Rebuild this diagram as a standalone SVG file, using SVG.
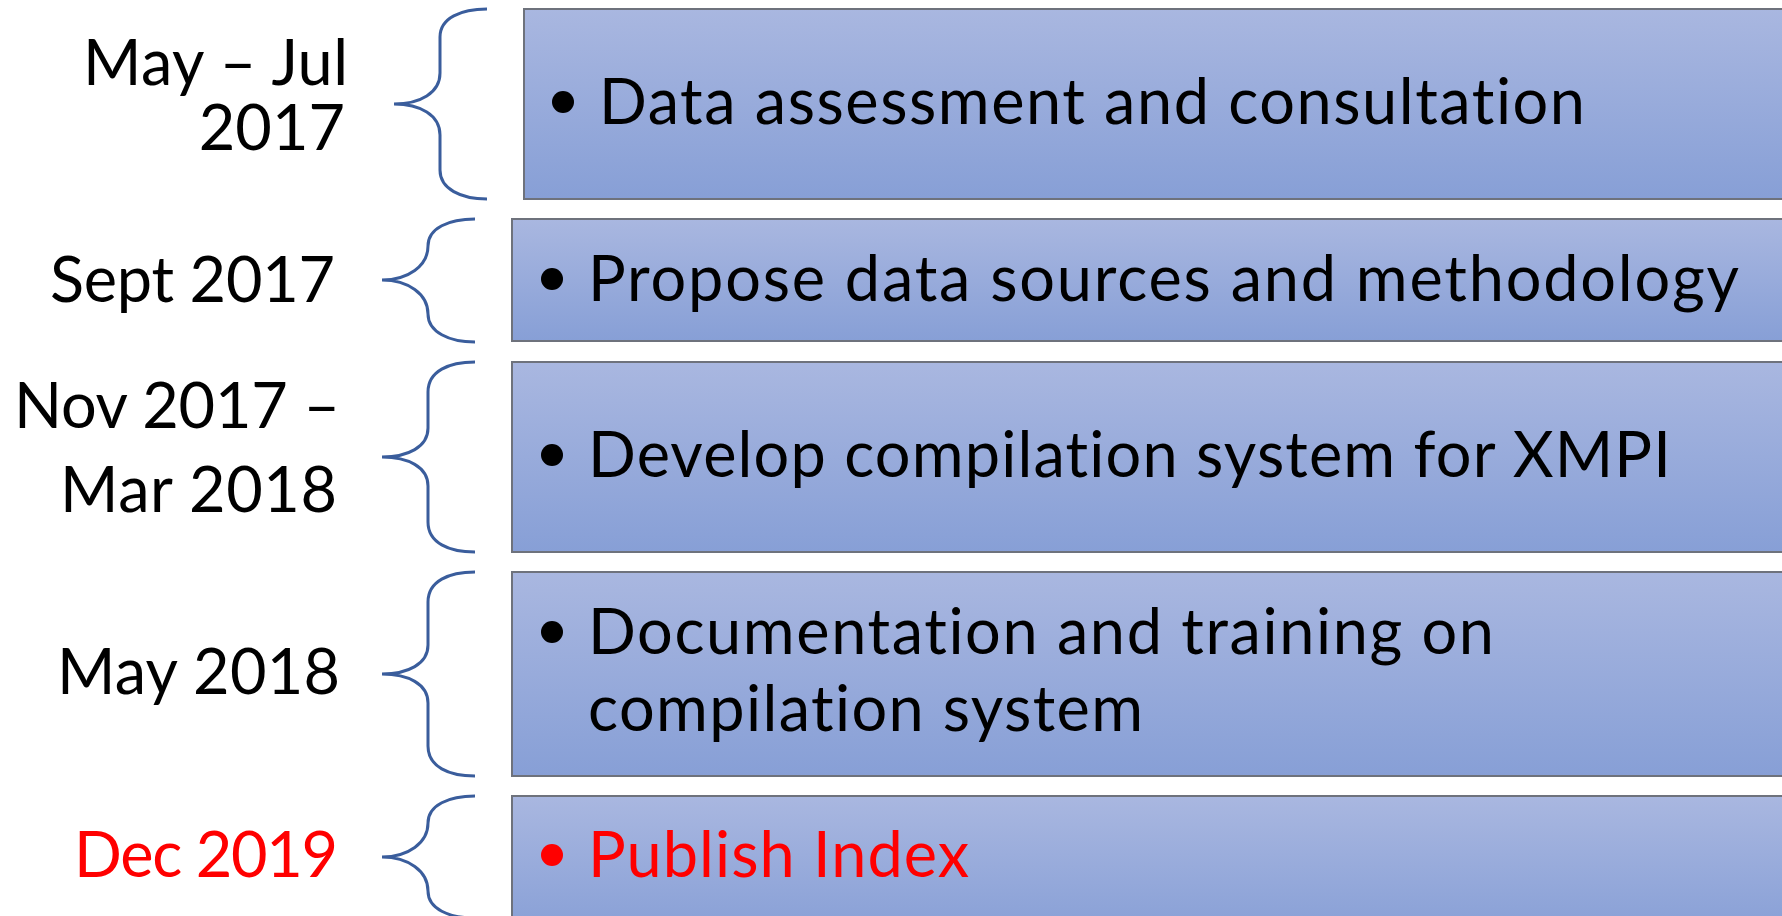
<svg xmlns="http://www.w3.org/2000/svg" width="1782" height="916" viewBox="0 0 1782 916">
<defs>
<linearGradient id="g" x1="0" y1="0" x2="0" y2="1">
<stop offset="0" stop-color="#a9b7e0"/>
<stop offset="1" stop-color="#879fd6"/>
</linearGradient>
<style>
.box{fill:url(#g);stroke:#6e727c;stroke-width:2}
.br{fill:none;stroke:#3a5d9c;stroke-width:3}
text{font-family:Lato,"Liberation Sans",sans-serif;font-size:63px;fill:#000;font-variant-ligatures:none}
.lab{text-anchor:end}
.red{fill:#ff0000}
</style>
</defs>
<rect width="1782" height="916" fill="#ffffff"/>
<g id="connectors">
<path class="br" d="M487,9 C461,9 440,18 440,37 L440,73 C440,93 420,104 394,104 C420,104 440,115 440,135 L440,170 C440,189 461,199 487,199"/>
<path class="br" d="M475,219 C449,219 428,228 428,246 C428,266 408,280 382,280 C408,280 428,294 428,314 C428,332 449,342 475,342"/>
<path class="br" d="M475,362 C449,362 428,371 428,392 L428,428 C428,447 408,457 382,457 C408,457 428,467 428,486 L428,522 C428,543 449,552 475,552"/>
<path class="br" d="M475,572 C449,572 428,581 428,602 L428,645 C428,664 408,674 382,674 C408,674 428,684 428,703 L428,746 C428,767 449,776 475,776"/>
<path class="br" d="M475,796 C449,796 428,805 428,823 C428,843 408,857 382,857 C408,857 428,871 428,891 C428,909 449,918 475,918"/>
</g>
<g id="node1">
<rect class="box" x="524" y="9" width="1270" height="190"/>
<circle cx="563" cy="102" r="11"/>
<text x="599" y="124" textLength="986">Data assessment and consultation</text>
<text class="lab"><tspan x="348" y="85" textLength="265">May – Jul</tspan><tspan x="345" y="150">2017</tspan></text>
</g>
<g id="node2">
<rect class="box" x="512" y="219" width="1282" height="122"/>
<circle cx="552" cy="279" r="11"/>
<text x="588" y="301" textLength="1151">Propose data sources and methodology</text>
<text class="lab" x="335" y="302" textLength="285">Sept 2017</text>
</g>
<g id="node3">
<rect class="box" x="512" y="362" width="1282" height="190"/>
<circle cx="552" cy="455" r="11"/>
<text x="588" y="477" textLength="1083">Develop compilation system for XMPI</text>
<text class="lab"><tspan x="340" y="428" textLength="326">Nov 2017 –</tspan><tspan x="337" y="512" textLength="277">Mar 2018</tspan></text>
</g>
<g id="node4">
<rect class="box" x="512" y="572" width="1282" height="204"/>
<circle cx="552" cy="632" r="11"/>
<text x="588" y="654"><tspan textLength="906">Documentation and training on</tspan><tspan x="588" y="731" textLength="555">compilation system</tspan></text>
<text class="lab" x="340" y="694" textLength="283">May 2018</text>
</g>
<g id="node5">
<rect class="box" x="512" y="796" width="1282" height="140"/>
<circle cx="552" cy="855" r="11" fill="#ff0000"/>
<text class="red" x="588" y="877" textLength="381">Publish Index</text>
<text class="lab red" x="338" y="877" textLength="264">Dec 2019</text>
</g>
</svg>
